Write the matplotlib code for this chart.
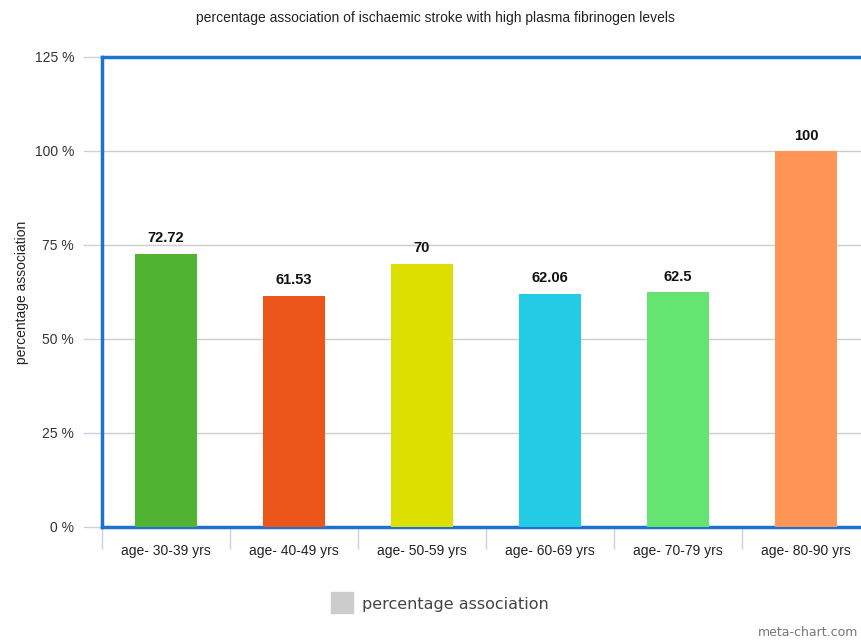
import matplotlib.pyplot as plt
import numpy as np

# data
categories = ['age- 30-39 yrs', 'age- 40-49 yrs', 'age- 50-59 yrs',
              'age- 60-69 yrs', 'age- 70-79 yrs', 'age- 80-90 yrs']
values = [72.72, 61.53, 70, 62.06, 62.5, 100]
value_labels = ['72.72', '61.53', '70', '62.06', '62.5', '100']
bar_colors = ['#50B432', '#ED561B', '#DDDF00', '#24CBE5', '#64E572', '#FF9655']
y_ticks = [0, 25, 50, 75, 100, 125]

plt.rcParams['font.family'] = ['Liberation Sans', 'DejaVu Sans']

fig = plt.figure(figsize=(8.62, 6.4), dpi=100)
# plot area runs past the right edge of the image, as in the reference
ax = fig.add_axes([102 / 862, 113 / 640, 768 / 862, 470 / 640])

x = np.arange(len(categories))
ax.bar(x, values, width=0.48, color=bar_colors, zorder=3)

for xi, v, lab in zip(x, values, value_labels):
    ax.annotate(lab, (xi, v), xytext=(0, 6), textcoords='offset points',
                ha='center', va='bottom', fontsize=10.5, fontweight='bold',
                color='#111111')

ax.set_xlim(-0.5, len(categories) - 0.5)
ax.set_ylim(0, 125)
ax.set_yticks(y_ticks)
ax.set_yticklabels([f'{t} %' for t in y_ticks], fontsize=10, color='#333333')
ax.yaxis.grid(True, color='#cccccc', linewidth=1, zorder=0)
ax.tick_params(axis='y', length=14, color='#c8d4e3', width=1, pad=6)

ax.set_xticks(x)
ax.set_xticklabels(categories, fontsize=10, color='#222222')
ax.tick_params(axis='x', length=0, pad=12)
ax.set_xticks(np.arange(len(categories) + 1) - 0.5, minor=True)
ax.tick_params(axis='x', which='minor', length=16, color='#c8d4e3', width=1)

for side in ['left', 'top', 'bottom', 'right']:
    ax.spines[side].set_color('#1b73d0')
    ax.spines[side].set_linewidth(2.5)

ax.set_ylabel('percentage association', fontsize=10, color='#222222', labelpad=4)

fig.text(435 / 862, 1 - 18 / 640, 'percentage association of ischaemic stroke with high plasma fibrinogen levels',
         ha='center', va='center', fontsize=10, color='#222222')

# legend
fig.patches.append(plt.Rectangle((331 / 862, 1 - 613 / 640), 22 / 862, 21 / 640,
                                 transform=fig.transFigure, color='#cccccc'))
fig.text(362 / 862, 1 - 604 / 640, 'percentage association', ha='left', va='center',
         fontsize=11.5, color='#444444', family='DejaVu Sans')

fig.text(858 / 862, 1 - 633 / 640, 'meta-chart.com', ha='right', va='center',
         fontsize=9, color='#777777', family='DejaVu Sans')

fig.savefig('out.png', dpi=100)
